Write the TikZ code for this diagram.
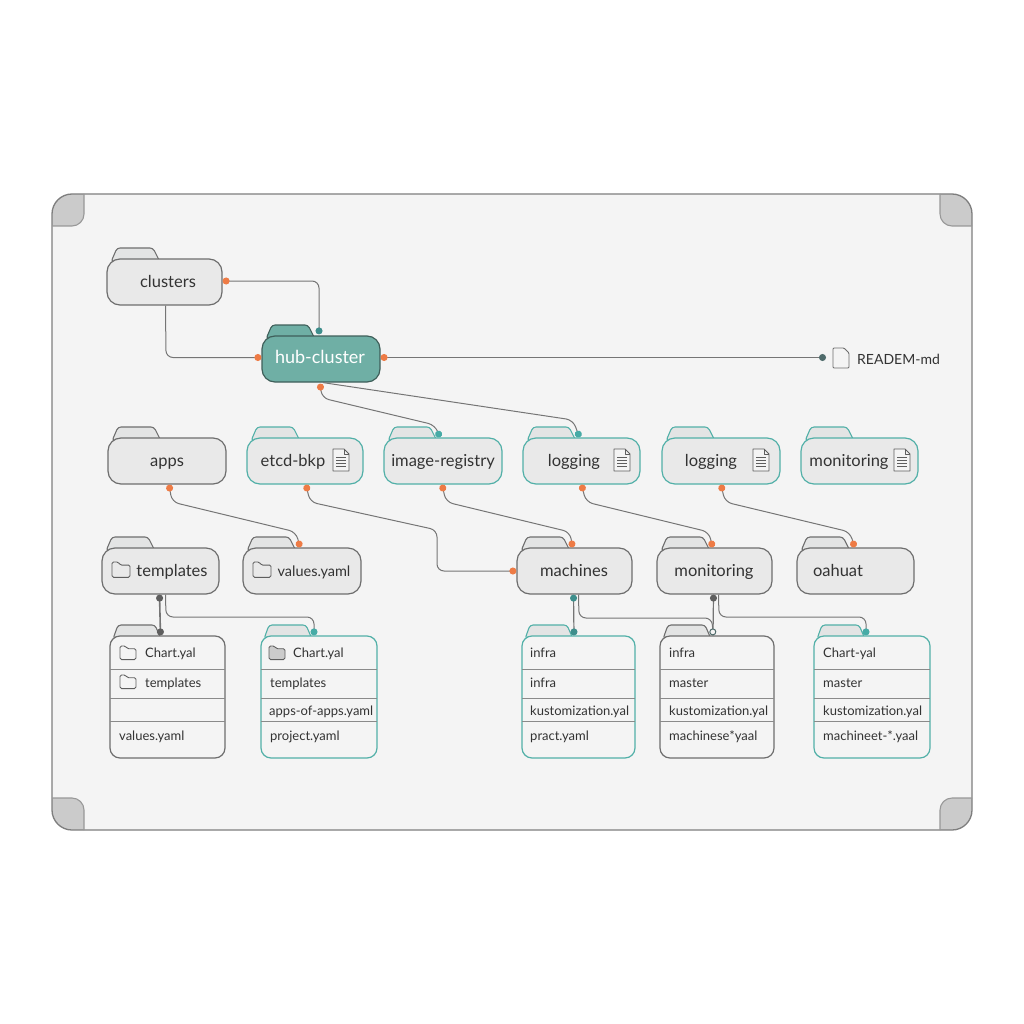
\documentclass[tikz,border=0pt]{standalone}
\usepackage{fontspec}
\setmainfont{Lato}
\usetikzlibrary{arrows.meta}

\definecolor{panelfill}{HTML}{F4F4F4}
\definecolor{panelline}{HTML}{7E7E7E}
\definecolor{cornerfill}{HTML}{CBCBCB}
\definecolor{boxline}{HTML}{6E6E6E}
\definecolor{boxfill}{HTML}{E9E9E9}
\definecolor{tabfill}{HTML}{E3E4E4}
\definecolor{tealline}{HTML}{52B0A8}
\definecolor{hubfill}{HTML}{6FAFA5}
\definecolor{hubline}{HTML}{3F5F5A}
\definecolor{wirecol}{HTML}{757575}
\definecolor{textcol}{HTML}{333333}
\definecolor{dotorange}{HTML}{EE7B45}
\definecolor{dotteal}{HTML}{3E8E8C}
\definecolor{dotlight}{HTML}{46ABA6}
\definecolor{dotdark}{HTML}{5E5E5E}
\definecolor{dotslate}{HTML}{4F6B6B}

\tikzset{
  od/.tip={Circle[length=7pt,width=7pt,color=dotorange]},
  td/.tip={Circle[length=7pt,width=7pt,color=dotteal]},
  ld/.tip={Circle[length=7pt,width=7pt,color=dotlight]},
  gd/.tip={Circle[length=7pt,width=7pt,color=dotdark]},
  sd/.tip={Circle[length=7pt,width=7pt,color=dotslate]},
  rd/.tip={Circle[length=7pt,width=7pt,color=dotslate,fill=panelfill]},
  grayfolder/.style={draw=boxline},
  tealfolder/.style={draw=tealline},
  hubfolder/.style={draw=hubline,fill=hubfill},
  tabshape/.style={line width=1.1pt,fill=tabfill,rounded corners=3pt},
  bodyshape/.style={line width=1.2pt,fill=boxfill,rounded corners=13pt,minimum height=46pt,inner sep=0pt},
  listshape/.style={line width=1.2pt,fill=panelfill,rounded corners=10pt,minimum height=122pt,inner sep=0pt},
  divider/.style={line width=0.9pt,draw=wirecol!85},
  wire/.style={line width=1pt,draw=wirecol,rounded corners=7pt},
  foldertext/.style={text=textcol,font=\fontsize{16.5}{20}\selectfont,inner sep=0pt,text height=14.5pt,text depth=3.5pt},
  rowtext/.style={text=textcol,font=\fontsize{13}{16}\selectfont,inner sep=0pt,anchor=west,text height=14pt,text depth=3pt},
  icon/.style={line width=0.9pt,draw=dotdark,fill=panelfill,line join=round},
}

% folder with a tab: style, name, left, right, top
\newcommand{\folderbox}[5]{%
  \draw[tabshape,#1] (#3+4,#5+3) -- (#3+10,#5-11) -- (#3+46,#5-11) -- (#3+53,#5+3) -- cycle;
  \node[bodyshape,#1,minimum width={(#4-#3)*1pt}] (#2) at ({(#3+#4)/2},#5+23) {};
}
% tall folder with rows: style, name, left, right
\newcommand{\listbox}[4]{%
  \draw[tabshape,#1] (#3+3,639) -- (#3+8,625) -- (#3+45,625) -- (#3+51,639) -- cycle;
  \node[listshape,#1,minimum width={(#4-#3)*1pt}] (#2) at ({(#3+#4)/2},697) {};
  \foreach \y in {669,698,721} {\draw[divider] (#3,\y) -- (#4,\y);}
}
% small page and small folder symbols
\newcommand{\pageicon}[2]{%
  \draw[icon] (#1-8,#2-11) -- (#1+3,#2-11) -- (#1+8,#2-6) -- (#1+8,#2+11) -- (#1-8,#2+11) -- cycle;
  \draw[icon,fill=none] (#1+3,#2-11) -- (#1+3,#2-6) -- (#1+8,#2-6);
  \foreach \d in {-3,0,3,6} {\draw[icon,line width=0.7pt] (#1-5,#2+\d) -- (#1+5,#2+\d);}
}
\newcommand{\foldericon}[4]{%
  \draw[icon,fill=#4,rounded corners=1.5pt] (#1,#2+#3*0.85) -- (#1,#2) -- (#1+#3*0.35,#2) -- (#1+#3*0.45,#2+#3*0.17) -- (#1+#3,#2+#3*0.17) -- (#1+#3,#2+#3*0.85) -- cycle;
}

\begin{document}
\begin{tikzpicture}[x=1pt,y=-1pt]
  \useasboundingbox (0,0) rectangle (1024,1024);

  % Panel
  \draw[fill=panelfill,draw=none,rounded corners=20pt] (52,194) rectangle (972,830);
  \foreach \cx/\cy/\sx/\sy in {52/194/1/1,972/194/-1/1,52/830/1/-1,972/830/-1/-1}
    \fill[cornerfill] (\cx,\cy+\sy*32) [rounded corners=20pt] -- (\cx,\cy) [sharp corners] -- (\cx+\sx*32,\cy) [rounded corners=12pt] -- (\cx+\sx*32,\cy+\sy*32) [sharp corners] -- cycle;
  \draw[line width=1.3pt,draw=panelline,rounded corners=20pt] (52,194) rectangle (972,830);
  \foreach \cx/\cy/\sx/\sy in {52/194/1/1,972/194/-1/1,52/830/1/-1,972/830/-1/-1}
    \draw[line width=1.1pt,draw=panelline!80,rounded corners=12pt] (\cx,\cy+\sy*32) -- (\cx+\sx*32,\cy+\sy*32) -- (\cx+\sx*32,\cy);

  % Upper folders
  \folderbox{grayfolder}{clusters}{107}{222}{259}
  \folderbox{hubfolder}{hub}{262}{380}{336}
  \node[foldertext] (clusters-text) at (168,282) {clusters};
  \node[foldertext,text=white,font=\fontsize{18}{20}\selectfont] (hub-text) at (320,358) {hub-cluster};

  % Second row
  \folderbox{grayfolder}{apps}{108}{226}{438}
  \folderbox{tealfolder}{etcd}{247}{363}{438}
  \folderbox{tealfolder}{registry}{384}{502}{438}
  \folderbox{tealfolder}{loggingA}{523}{640}{438}
  \folderbox{tealfolder}{loggingB}{662}{780}{438}
  \folderbox{tealfolder}{monitoringA}{801}{918}{438}
  \foreach \n/\x/\t in {apps/167/apps,etcd/293/etcd-bkp,registry/443/image-registry,loggingA/574/logging,loggingB/711/logging,monitoringA/849/monitoring}
    \node[foldertext] (\n-text) at (\x,461) {\t};
  \foreach \x in {341,622,761,902} {\pageicon{\x}{460}}

  % Third row
  \folderbox{grayfolder}{templates}{102}{219}{548}
  \folderbox{grayfolder}{values}{243}{361}{548}
  \folderbox{grayfolder}{machines}{517}{632}{548}
  \folderbox{grayfolder}{monitoringB}{657}{772}{548}
  \folderbox{grayfolder}{oahuat}{797}{914}{548}
  \foreach \n/\x/\t in {templates/172/templates,machines/574/machines,monitoringB/714/monitoring,oahuat/838/oahuat}
    \node[foldertext] (\n-text) at (\x,571) {\t};
  \node[foldertext,font=\fontsize{14.5}{18}\selectfont] (values-text) at (314,571) {values.yaml};
  \foldericon{112}{562}{18}{boxfill}
  \foldericon{253}{562}{18}{boxfill}

  % Row folders
  \listbox{grayfolder}{chartA}{110}{225}
  \listbox{tealfolder}{chartB}{261}{377}
  \listbox{tealfolder}{infraA}{522}{635}
  \listbox{grayfolder}{infraB}{660}{774}
  \listbox{tealfolder}{chartC}{814}{930}
  \foldericon{120}{646}{16}{panelfill}
  \foldericon{120}{675}{16}{panelfill}
  \foldericon{269}{646}{16}{cornerfill}
  \foreach \r/\x/\y/\t in {1/145/652/Chart.yal,2/145/682/templates,4/119/735/values.yaml}
    \node[rowtext] (chartA-\r) at (\x,\y) {\t};
  \foreach \r/\x/\y/\t in {1/293/652/Chart.yal,2/270/682/templates,3/269/710/apps-of-apps.yaml,4/270/735/project.yaml}
    \node[rowtext] (chartB-\r) at (\x,\y) {\t};
  \foreach \r/\y/\t in {1/652/infra,2/682/infra,3/710/kustomization.yal,4/735/pract.yaml}
    \node[rowtext] (infraA-\r) at (530,\y) {\t};
  \foreach \r/\y/\t in {1/652/infra,2/682/master,3/710/kustomization.yal,4/735/machinese*yaal}
    \node[rowtext] (infraB-\r) at (669,\y) {\t};
  \foreach \r/\y/\t in {1/652/Chart-yal,2/682/master,3/710/kustomization.yal,4/735/machineet-*.yaal}
    \node[rowtext] (chartC-\r) at (823,\y) {\t};

  % README
  \draw[icon,draw=boxline,fill=panelfill,rounded corners=1pt] (833,348) -- (844,348) -- (849,353) -- (849,368) -- (833,368) -- cycle;
  \node[foldertext,anchor=west,font=\fontsize{14}{18}\selectfont] (readme) at (857,359) {READEM-md};
  \coordinate (readme-in) at (826,357.5);

  % Connectors
  \draw[wire,od-td] ([yshift=1pt]clusters.east) -- (319,281) -- ([xshift=-2pt,yshift=1pt]hub.north);
  \draw[wire,-od] ([xshift=1pt]clusters.south) -- (166,357.5) -- ([yshift=1.5pt]hub.west);
  \draw[wire,od-sd] ([yshift=1.5pt]hub.east) -- (readme-in);
  \draw[wire,od-ld] ([xshift=-1pt,yshift=-1pt]hub.south) -- (322,398) -- (435,425) -- ([xshift=-3pt]registry.north);
  \draw[wire,-ld] ([xshift=2pt]hub.south) -- (573,420) -- ([xshift=-2pt]loggingA.north);
  \draw[wire,od-od] ([xshift=2pt]apps.south) -- (172,502) -- (296,532) -- ([xshift=-2pt]values.north);
  \draw[wire,od-od] ([xshift=1pt]etcd.south) -- (310,502) -- (437,530) -- (437,571) -- (machines.west);
  \draw[wire,od-od] ([xshift=-1pt]registry.south) -- (446,502) -- (570,532) -- ([xshift=-2pt]machines.north);
  \draw[wire,od-od] (loggingA.south) -- (586,502) -- (709,532) -- ([xshift=-2pt]monitoringB.north);
  \draw[wire,od-od] (loggingB.south) -- (725,502) -- (850,532) -- ([xshift=-1pt]oahuat.north);
  \draw[wire,gd-gd,line width=1.6pt] ([xshift=-1pt]templates.south) -- ([xshift=-7pt]chartA.north);
  \draw[wire,-ld] ([xshift=5pt]templates.south) -- (166,617) -- (314,617) -- ([xshift=-5pt]chartB.north);
  \draw[wire,td-td,line width=1.2pt] ([xshift=-1pt]machines.south) -- ([xshift=-4.5pt]infraA.north);
  \draw[wire,gd-,line width=1.2pt] ([xshift=-1pt]monitoringB.south) -- ([xshift=-4pt]infraB.north);
  \draw[wire,-rd] ([xshift=4pt]machines.south) -- (579,618) -- (712,618) -- ([xshift=-4pt]infraB.north);
  \draw[wire,-ld] ([xshift=4pt]monitoringB.south) -- (719,617) -- (866,617) -- ([xshift=-6pt]chartC.north);
\end{tikzpicture}
\end{document}
